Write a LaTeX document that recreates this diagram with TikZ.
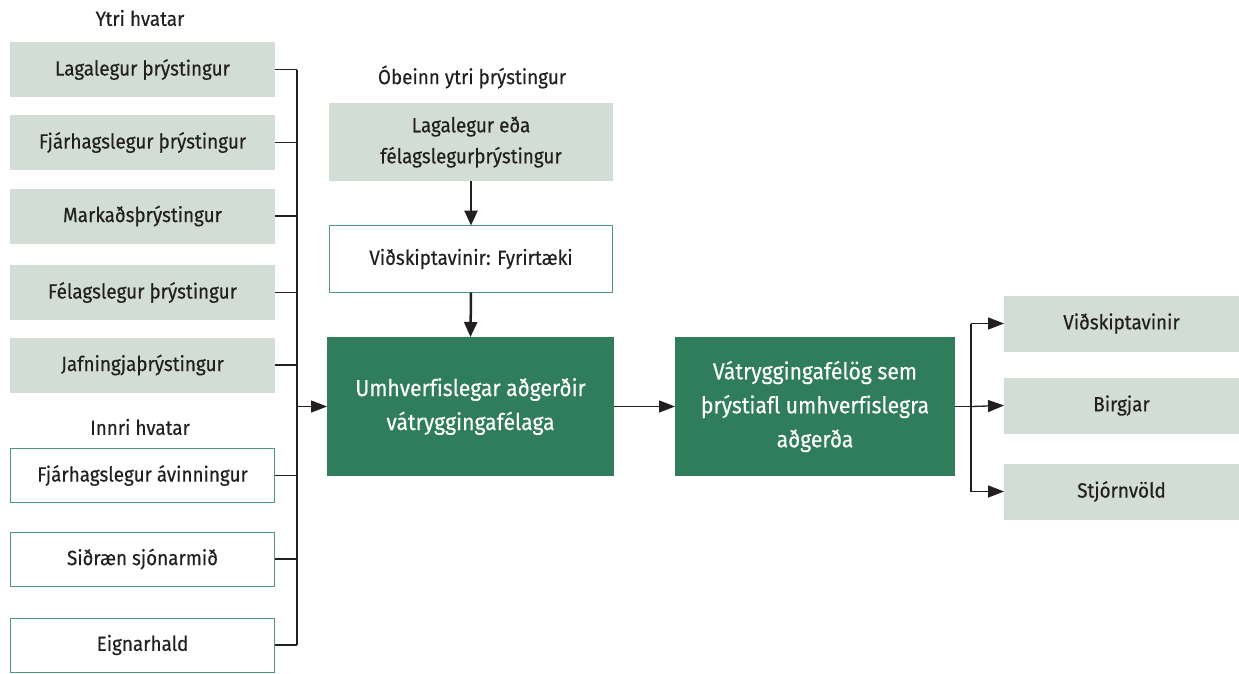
\documentclass[tikz,border=0pt]{standalone}
\usepackage{fontspec}
\setmainfont{Fira Sans}[FakeStretch=0.92, Ligatures=NoCommon, FakeBold=0.3]
\usetikzlibrary{arrows.meta}
\definecolor{lightg}{HTML}{D1DDD5}
\definecolor{darkg}{HTML}{2F7D5B}
\definecolor{outg}{HTML}{4E9A74}
\definecolor{txt}{HTML}{231F20}
\tikzset{
  x=1pt, y=-1pt,
  base/.style={inner sep=0pt, outer sep=0pt, align=center, text=txt, font=\fontsize{20.5}{31}\selectfont},
  gbox/.style={base, fill=lightg, minimum width=265pt, minimum height=55pt},
  obox/.style={base, fill=white, draw=outg, line width=1pt, minimum width=264pt, minimum height=54pt},
  dbox/.style={base, fill=darkg, text=white, font=\fontsize{23}{34}\selectfont, minimum height=139pt},
  rbox/.style={base, fill=lightg, minimum width=235pt, minimum height=56pt},
  lbl/.style={base},
  conn/.style={draw=txt, line width=1.3pt},
  arr/.style={draw=txt, line width=1.3pt, -{Triangle[length=16pt,width=12pt]}},
  varr/.style={draw=txt, line width=2.5pt, -{Triangle[length=15pt,width=13pt]}}
}
\begin{document}
\begin{tikzpicture}
\useasboundingbox (0,0) rectangle (1239,673);
% labels
\node[lbl] (lext) at (140,18) {Ytri hvatar};
\node[lbl] (lint) at (140,427) {Innri hvatar};
\node[lbl] (lind) at (472,77) {Óbeinn ytri þrýstingur};
% left boxes
\node[gbox] (b1) at (142.5,69.5) {Lagalegur þrýstingur};
\node[gbox] (b2) at (142.5,142.5) {Fjárhagslegur þrýstingur};
\node[gbox] (b3) at (142.5,216) {Markaðsþrýstingur};
\node[gbox] (b4) at (142.5,292.5) {Félagslegur þrýstingur};
\node[gbox] (b5) at (142.5,365) {Jafningjaþrýstingur};
\node[obox] (b6) at (142.5,475.5) {Fjárhagslegur ávinningur};
\node[obox] (b7) at (142.5,559) {Siðræn sjónarmið};
\node[obox] (b8) at (142.5,645) {Eignarhald};
% middle
\node[gbox, minimum width=284pt, minimum height=78pt] (t1) at (471,142) {Lagalegur eða\\félagslegurþrýstingur};
\node[obox, minimum width=283pt, minimum height=67pt] (t2) at (471,259) {Viðskiptavinir: Fyrirtæki};
\node[dbox, minimum width=287pt] (m1) at (470.5,406.5) {Umhverfislegar aðgerðir\\vátryggingafélaga};
\node[dbox, minimum width=280pt] (m2) at (815,406.5) {Vátryggingafélög sem\\þrýstiafl umhverfislegra\\aðgerða};
% right
\node[rbox] (r1) at (1121.5,323.5) {Viðskiptavinir};
\node[rbox] (r2) at (1121.5,405.5) {Birgjar};
\node[rbox] (r3) at (1121.5,491.5) {Stjórnvöld};
% bus
\coordinate (bus) at (297,406.5);
\foreach \n in {b1,b2,b3,b4,b5,b6,b7,b8}{
  \draw[conn] (\n.east) -- (\n.east -| bus);
}
\draw[conn] (b1.east -| bus) -- (b8.east -| bus);
\draw[arr] (bus) -- (m1.west);
\draw[varr] (t1.south) -- (t2.north);
\draw[varr] (t2.south) -- (m1.north);
\draw[arr] (m1.east) -- (m2.west);
\coordinate (br) at (971,406.5);
\draw[conn] (m2.east) -- (br);
\draw[conn] (r1.west -| br) -- (r3.west -| br);
\draw[arr] (r1.west -| br) -- (r1.west);
\draw[arr] (br) -- (r2.west);
\draw[arr] (r3.west -| br) -- (r3.west);
\end{tikzpicture}
\end{document}
